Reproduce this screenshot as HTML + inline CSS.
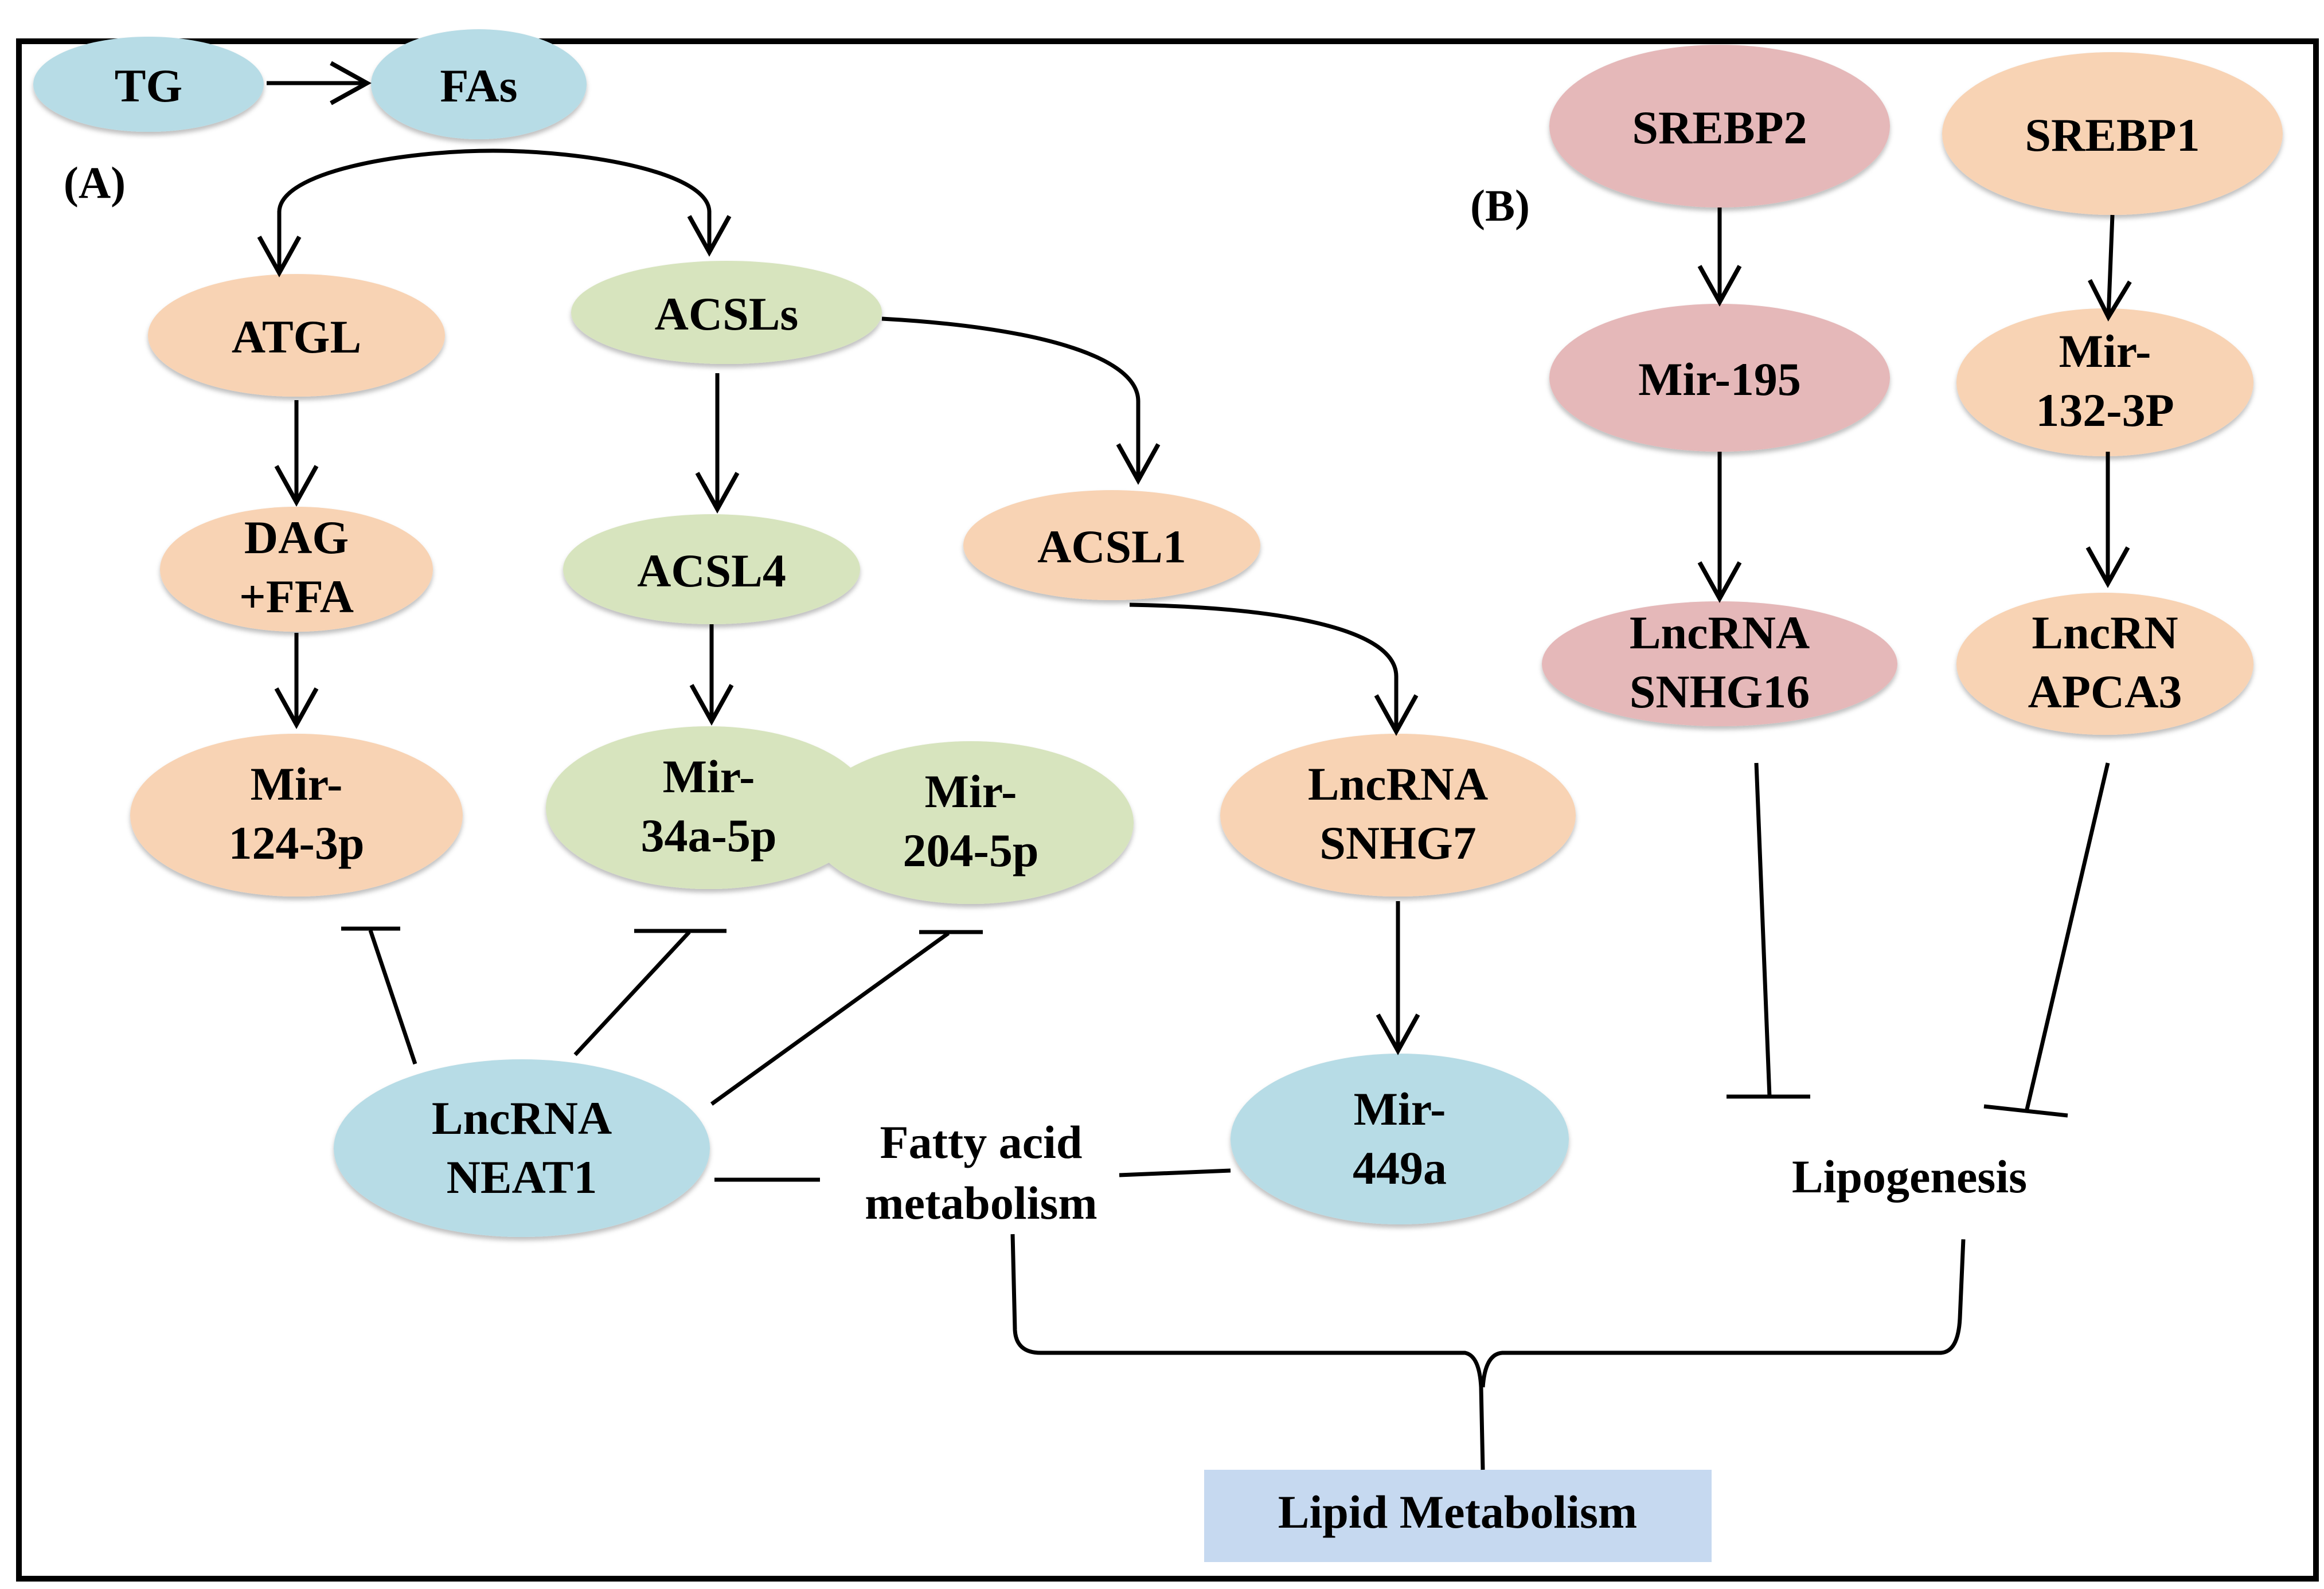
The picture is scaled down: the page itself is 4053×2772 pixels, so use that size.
<!DOCTYPE html>
<html><head><meta charset="utf-8"><style>html,body{margin:0;padding:0;background:#fff}svg{display:block}</style></head>
<body>
<svg width="4053" height="2772" viewBox="0 0 4053 2772" xmlns="http://www.w3.org/2000/svg">
<defs>
<marker id="a" markerWidth="12" markerHeight="12" refX="10" refY="6" orient="auto" markerUnits="strokeWidth">
<polyline points="1,1 10,6 1,11" fill="none" stroke="#000" stroke-width="1.1"/>
</marker>
<filter id="sh" x="-10%" y="-10%" width="120%" height="130%"><feDropShadow dx="0" dy="6" stdDeviation="4" flood-color="#000" flood-opacity="0.25"/></filter>
</defs>
<rect x="0" y="0" width="4053" height="2772" fill="#fff"/>
<rect x="33" y="72" width="4006" height="2682" fill="none" stroke="#000" stroke-width="10"/>

<g font-family="Liberation Serif, serif" font-weight="bold" font-size="82" text-anchor="middle" fill="#000">
<g filter="url(#sh)">
<ellipse cx="259" cy="147" rx="201" ry="83" fill="#b7dce6"/>
<ellipse cx="835" cy="147" rx="188" ry="96" fill="#b7dce6"/>
<ellipse cx="517" cy="585" rx="259" ry="107" fill="#f8d3b4"/>
<ellipse cx="1267" cy="545" rx="271" ry="90" fill="#d7e4be"/>
<ellipse cx="517" cy="993" rx="238" ry="109" fill="#f8d3b4"/>
<ellipse cx="1241" cy="993" rx="259" ry="96" fill="#d7e4be"/>
<ellipse cx="1939" cy="951" rx="259" ry="96" fill="#f8d3b4"/>
<ellipse cx="517" cy="1422" rx="290" ry="142" fill="#f8d3b4"/>
<ellipse cx="1236" cy="1409" rx="284" ry="142" fill="#d7e4be"/>
<ellipse cx="1693" cy="1435" rx="284" ry="142" fill="#d7e4be"/>
<ellipse cx="2438" cy="1422" rx="310" ry="142" fill="#f8d3b4"/>
<ellipse cx="910" cy="2003" rx="328" ry="155" fill="#b7dce6"/>
<ellipse cx="2441" cy="1987" rx="295" ry="149" fill="#b7dce6"/>
<ellipse cx="2999" cy="220" rx="297" ry="142" fill="#e5b8b9"/>
<ellipse cx="3684" cy="233" rx="297" ry="142" fill="#f8d3b4"/>
<ellipse cx="2999" cy="659" rx="297" ry="129" fill="#e5b8b9"/>
<ellipse cx="3671" cy="667" rx="259" ry="129" fill="#f8d3b4"/>
<ellipse cx="2999" cy="1158" rx="310" ry="109" fill="#e5b8b9"/>
<ellipse cx="3671" cy="1158" rx="259" ry="124" fill="#f8d3b4"/>
</g>
<rect x="2100" y="2564" width="885" height="161" fill="#c6d9f0"/>

<text x="259" y="177">TG</text>
<text x="835" y="177">FAs</text>
<text x="165" y="345" font-size="78">(A)</text>
<text x="2616" y="385" font-size="78">(B)</text>
<text x="517" y="615">ATGL</text>
<text x="1267" y="575">ACSLs</text>
<text x="517" y="965">DAG</text><text x="517" y="1068">+FFA</text>
<text x="1241" y="1023">ACSL4</text>
<text x="1939" y="981">ACSL1</text>
<text x="517" y="1395">Mir-</text><text x="517" y="1498">124-3p</text>
<text x="1236" y="1382">Mir-</text><text x="1236" y="1485">34a-5p</text>
<text x="1693" y="1408">Mir-</text><text x="1693" y="1511">204-5p</text>
<text x="2438" y="1395">LncRNA</text><text x="2438" y="1498">SNHG7</text>
<text x="910" y="1978">LncRNA</text><text x="910" y="2081">NEAT1</text>
<text x="2441" y="1962">Mir-</text><text x="2441" y="2065">449a</text>
<text x="1711" y="2020">Fatty acid</text><text x="1711" y="2126">metabolism</text>
<text x="3330" y="2080">Lipogenesis</text>
<text x="2542" y="2665">Lipid Metabolism</text>
<text x="2999" y="250">SREBP2</text>
<text x="3684" y="263">SREBP1</text>
<text x="2999" y="689">Mir-195</text>
<text x="3671" y="640">Mir-</text><text x="3671" y="743">132-3P</text>
<text x="2999" y="1131">LncRNA</text><text x="2999" y="1234">SNHG16</text>
<text x="3671" y="1131">LncRN</text><text x="3671" y="1234">APCA3</text>
</g>

<g fill="none" stroke="#000" stroke-width="7">
<line x1="465" y1="145" x2="640" y2="145" marker-end="url(#a)"/>
<path d="M487,370 C487,300 700,263 860,263 C1020,263 1237,300 1237,370"/>
<line x1="487" y1="368" x2="487" y2="476" marker-end="url(#a)"/>
<line x1="1237" y1="368" x2="1237" y2="440" marker-end="url(#a)"/>
<line x1="517" y1="698" x2="517" y2="876" marker-end="url(#a)"/>
<line x1="1251" y1="651" x2="1251" y2="888" marker-end="url(#a)"/>
<path d="M1538,556 C1800,570 1985,620 1985,700 L1985,838" marker-end="url(#a)"/>
<line x1="517" y1="1104" x2="517" y2="1264" marker-end="url(#a)"/>
<line x1="1241" y1="1089" x2="1241" y2="1258" marker-end="url(#a)"/>
<path d="M1970,1055 C2250,1060 2435,1100 2435,1180 L2435,1276" marker-end="url(#a)"/>
<line x1="2438" y1="1572" x2="2438" y2="1833" marker-end="url(#a)"/>
<line x1="2999" y1="362" x2="2999" y2="527" marker-end="url(#a)"/>
<line x1="2999" y1="788" x2="2999" y2="1044" marker-end="url(#a)"/>
<line x1="3684" y1="375" x2="3677" y2="553" marker-end="url(#a)"/>
<line x1="3676" y1="788" x2="3676" y2="1018" marker-end="url(#a)"/>

<line x1="724" y1="1856" x2="646" y2="1623"/>
<line x1="595" y1="1620" x2="698" y2="1620"/>
<line x1="1003" y1="1840" x2="1202" y2="1626"/>
<line x1="1106" y1="1624" x2="1267" y2="1624"/>
<line x1="1241" y1="1926" x2="1654" y2="1628"/>
<line x1="1603" y1="1626" x2="1714" y2="1626"/>

<line x1="1246" y1="2058" x2="1430" y2="2058"/>
<line x1="1952" y1="2050" x2="2146" y2="2042"/>

<line x1="3063" y1="1331" x2="3086" y2="1913"/>
<line x1="3011" y1="1913" x2="3157" y2="1913"/>
<line x1="3676" y1="1331" x2="3535" y2="1935"/>
<line x1="3460" y1="1930" x2="3606" y2="1946"/>

<path d="M1766,2153 L1770,2320 Q1772,2360 1815,2360 L2555,2360 Q2580,2365 2583,2420 L2586,2564"/>
<path d="M2586,2420 Q2590,2362 2620,2360 L3385,2360 Q3415,2358 3418,2300 L3424,2162"/>
</g>
</svg>
</body></html>
